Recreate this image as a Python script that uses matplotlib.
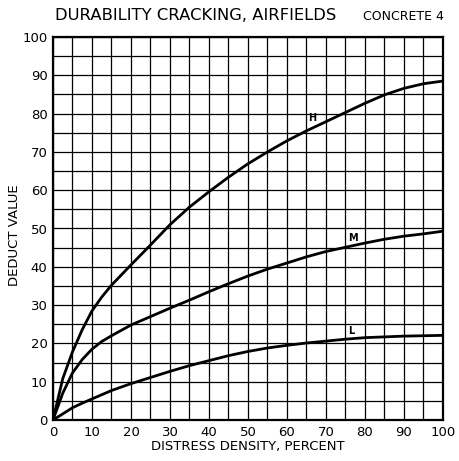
import matplotlib
matplotlib.use("Agg")
import matplotlib.pyplot as plt

# distress density (percent) and deduct values
density = [0, 2.5, 5, 7.5, 10, 12.5, 15, 20, 25, 30, 35, 40, 45, 50, 55, 60,
           65, 70, 75, 80, 85, 90, 95, 100]
high = [0, 10.8, 17.8, 23.6, 28.5, 32.1, 35.2, 40.5, 45.7, 51, 55.6, 59.6,
        63.4, 66.9, 70.0, 72.9, 75.5, 77.9, 80.3, 82.7, 84.9, 86.6, 87.8, 88.5]
medium = [0, 7, 12.3, 15.8, 18.5, 20.5, 22, 24.8, 27, 29.2, 31.3, 33.5,
          35.6, 37.6, 39.4, 41, 42.6, 44, 45.1, 46.2, 47.2, 48, 48.6, 49.3]
low = [0, 1.6, 3.2, 4.4, 5.5, 6.6, 7.7, 9.5, 11.1, 12.7, 14.2, 15.5, 16.8,
       17.9, 18.8, 19.5, 20.1, 20.6, 21.1, 21.5, 21.7, 21.9, 22, 22.1]

curve_labels = ["H", "M", "L"]
label_pos = [(66.5, 77.5), (77, 46.2), (76.5, 21.9)]
ticks = list(range(0, 101, 10))
grid = list(range(0, 101, 5))

W, H = 460, 461
fig = plt.figure(figsize=(W / 100, H / 100), dpi=100)
ax = fig.add_axes([53 / W, 1 - 420 / H, 390 / W, 383 / H])

# grid every 5 units
for g in grid:
    ax.axvline(g, color="black", lw=0.9, zorder=1)
    ax.axhline(g, color="black", lw=0.9, zorder=1)

for series in [high, medium, low]:
    ax.plot(density, series, color="black", lw=2.0, zorder=3,
            solid_capstyle="round", solid_joinstyle="round")

for lab, (lx, ly) in zip(curve_labels, label_pos):
    ax.text(lx, ly, lab, fontsize=7, fontweight="bold", ha="center",
            va="bottom", zorder=4)

ax.set_xlim(0, 100)
ax.set_ylim(0, 100)
ax.set_xticks(ticks)
ax.set_yticks(ticks)
ax.set_xticklabels([str(t) for t in ticks])
ax.set_yticklabels([str(t) for t in ticks])
ax.tick_params(length=0, labelsize=9.5, pad=4)
for s in ax.spines.values():
    s.set_linewidth(1.6)

ax.set_xlabel("DISTRESS DENSITY, PERCENT", fontsize=9.5, labelpad=1)
fig.text(15 / W, 1 - 235 / H, "DEDUCT VALUE", rotation=90, fontsize=9.5,
         ha="center", va="center")

fig.text(55 / W, 1 - 16 / H, "DURABILITY CRACKING, AIRFIELDS", fontsize=11.8,
         ha="left", va="center")
fig.text(363 / W, 1 - 17 / H, "CONCRETE 4", fontsize=9, ha="left",
         va="center")

fig.savefig("out.png", dpi=100)
